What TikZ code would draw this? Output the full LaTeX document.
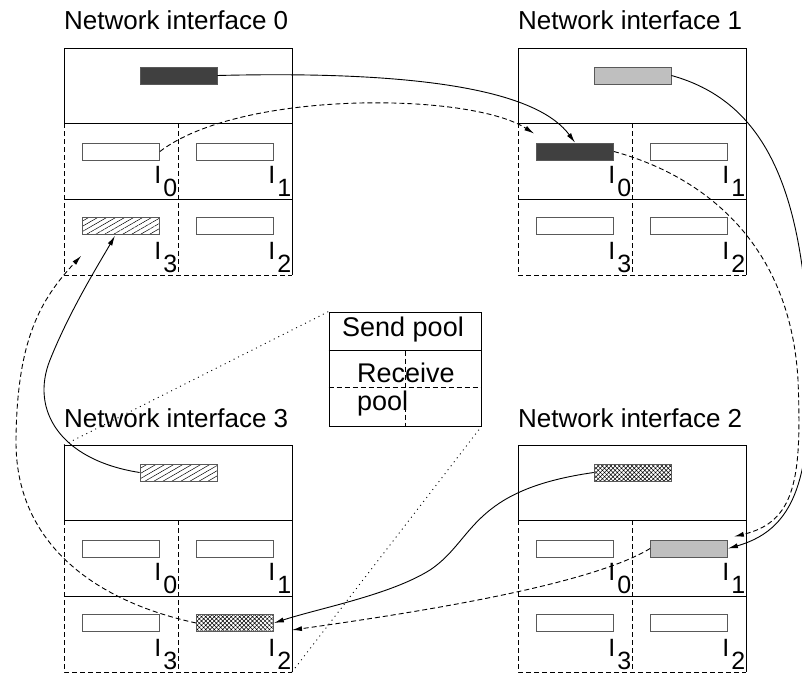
\documentclass[tikz,border=0pt]{standalone}
\usepackage{fontspec}
\setmainfont{Liberation Sans}
\usetikzlibrary{arrows.meta,patterns.meta,calc}

\tikzset{
 ln/.style={line width=0.9pt},
 dashln/.style={line width=0.9pt, dash pattern=on 5pt off 3pt},
 dotln/.style={line width=0.9pt, dash pattern=on 1pt off 4pt},
 titletext/.style={font=\fontsize{26}{30}\selectfont, inner sep=0pt},
 legtext/.style={font=\fontsize{27}{30}\selectfont, inner sep=0pt},
 sendbuf/.style={draw=black!65, line width=0.8pt, minimum width=77pt, minimum height=17pt, inner sep=0pt},
 slot/.style={sendbuf},
 darkfill/.style={fill=black!75},
 greyfill/.style={fill=black!25},
 hatchfill/.style={pattern={Lines[angle=30,distance=4.5pt,line width=0.5pt]}},
 crossfill/.style={pattern={Hatch[angle=45,distance=3pt,line width=0.5pt]}},
 lbl/.style={font=\fontsize{25}{30}\selectfont, inner sep=0pt, anchor=south east},
 conn/.style={line width=0.9pt, -{Latex[length=10pt,width=5pt]}},
 dconn/.style={conn, dash pattern=on 5pt off 3pt},
}

% #1 prefix, #2 x, #3 y, #4 title, #5 send style, #6..#9 slot styles I0..I3
\newcommand\niblock[9]{%
\begin{scope}[shift={(#2,#3)}]
 \node[titletext, anchor=base west] (#1t) at (0,-18) {#4};
 \coordinate (#1nw) at (0,0);
 \coordinate (#1se) at (228,227);
 \draw[ln] (0,75) -- (0,0) -- (228,0) -- (228,227);
 \draw[ln] (0,75) -- (228,75);
 \draw[ln] (0,151) -- (228,151);
 \draw[dashln] (0,75) -- (0,227) -- (228,227);
 \draw[dashln] (114,75) -- (114,227);
 \node[sendbuf,#5] (#1s) at (114.5,27.5) {};
 \node[slot,#6] (#1r0) at (57,103.5) {};
 \node[slot,#7] (#1r1) at (171,103.5) {};
 \node[slot,#8] (#1r2) at (171,178) {};
 \node[slot,#9] (#1r3) at (57,178) {};
 \node[lbl] (#1l0) at (113.5,149) {I\kern2pt\raisebox{-13pt}{0}};
 \node[lbl] (#1l1) at (227.5,149) {I\kern2pt\raisebox{-13pt}{1}};
 \node[lbl] (#1l2) at (227.5,225) {I\kern2pt\raisebox{-13pt}{2}};
 \node[lbl] (#1l3) at (113.5,225) {I\kern2pt\raisebox{-13pt}{3}};
\end{scope}}

\begin{document}
\begin{tikzpicture}[x=1pt,y=-1pt]
\useasboundingbox (0,0) rectangle (802,674);

\niblock{b0}{64}{48}{Network interface 0}{darkfill}{}{}{}{hatchfill}
\niblock{b1}{518}{48}{Network interface 1}{greyfill}{darkfill}{}{}{}
\niblock{b2}{518}{445}{Network interface 2}{crossfill}{}{greyfill}{}{}
\niblock{b3}{64}{445}{Network interface 3}{hatchfill}{}{}{crossfill}{}

% legend
\node[draw, ln, minimum width=152pt, minimum height=114pt, inner sep=0pt] (leg) at (405,369) {};
\coordinate (legsl) at ($(leg.north west)+(0,39)$);
\coordinate (legsr) at ($(leg.north east)+(0,39)$);
\coordinate (legdl) at ($(leg.north west)+(0,76)$);
\coordinate (legdr) at ($(leg.north east)+(0,76)$);
\coordinate (legvt) at ($(leg.north)+(0,39)$);
\draw[ln] (legsl) -- (legsr);
\draw[dashln] (legdl) -- (legdr);
\draw[dashln] (legvt) -- (leg.south);
\node[legtext, anchor=base] (legs) at (403,336) {Send pool};
\node[legtext, anchor=base west] (legr) at (357,382) {Receive};
\node[legtext, anchor=base west] (legp) at (357,410) {pool};

\draw[dotln] (b3nw) -- (leg.north west);
\draw[dotln] (b3se) -- (leg.south east);

% arrow end points
\coordinate (t2) at ($(b1r0.north west)+(-2,-9)$);
\coordinate (t4) at ($(b2r1.north east)+(6,-3)$);
\coordinate (t6) at ($(b3se)+(0,-42)$);
\coordinate (t7) at ($(b0r3.south)+(-6,1)$);
\coordinate (t8) at ($(b0r3.south west)+(-1,21)$);

% connectors
\draw[conn] (b0s.east) .. controls (440,70) and (540,95) .. (b1r0.north);
\draw[dconn] (b0r0.east) .. controls (240,90) and (470,92) .. (t2);

\draw[conn] (b1s.east) .. controls (760,100) and (800,180) .. (808,330)
  .. controls (814,470) and (800,528) .. (b2r1.east);
\draw[dconn] (b1r0.east) .. controls (700,175) and (790,240) .. (798,380)
  .. controls (802,480) and (795,522) .. (t4);

\draw[conn] (b2s.west) .. controls (470,490) and (475,540) .. (430,570)
  .. controls (390,595) and (320,608) .. (b3r2.east);
\draw[dconn] (b2r1.west) .. controls (590,585) and (420,612) .. (t6);

\draw[conn] (b3s.west) .. controls (60,460) and (30,410) .. (50,360)
  .. controls (70,310) and (100,262) .. (t7);
\draw[dconn] (b3r2.west) .. controls (90,600) and (15,540) .. (16,440)
  .. controls (17,340) and (40,300) .. (t8);
\end{tikzpicture}
\end{document}
